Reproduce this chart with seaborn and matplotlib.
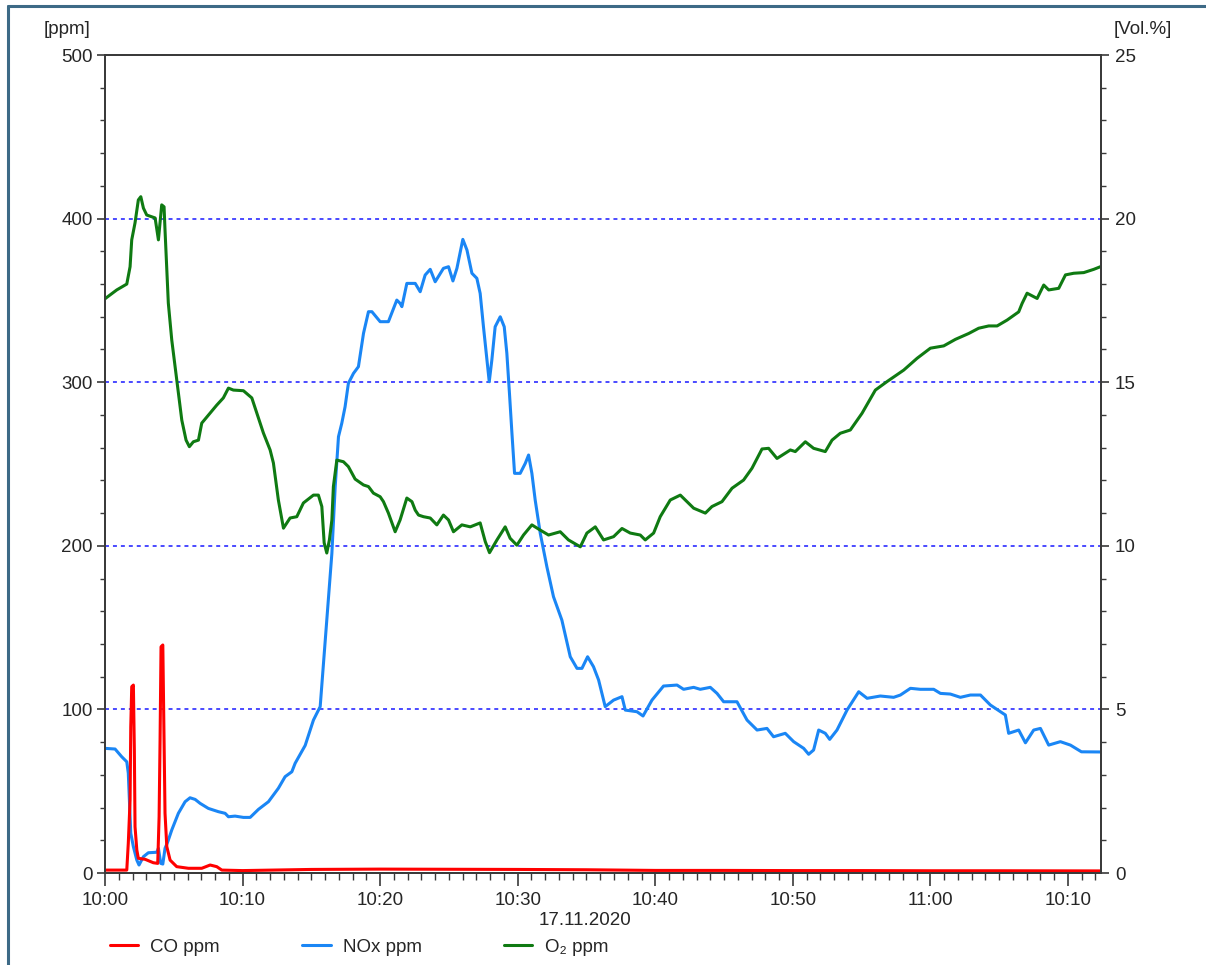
import matplotlib
matplotlib.use("Agg")
import matplotlib.pyplot as plt
from matplotlib.lines import Line2D
from matplotlib.ticker import MultipleLocator
import numpy as np
import pandas as pd
import seaborn as sns

# Data, time in minutes after 10:00

co_t = [0, 1.58, 1.69, 1.82, 1.87, 1.94, 2.06, 2.13, 2.18, 2.31, 2.42, 2.91, 3.51, 3.83,
        3.93, 4.0, 4.07, 4.2, 4.29, 4.36, 4.49, 4.73, 5.21, 6.06, 7.03, 7.64, 8.12, 8.49,
        10, 15, 20, 25, 30, 35, 40, 45, 50, 55, 60, 65, 72.4]
co_ppm = [1.8, 1.8, 18.2, 44.6, 89.4, 113.9, 114.9, 75.2, 28.3, 14.1, 9.0, 8.4, 6.3, 5.9,
          34.4, 81.3, 138.3, 139.4, 81.3, 36.5, 16.1, 7.9, 3.9, 2.9, 2.9, 4.9, 3.9, 1.8,
          1.5, 2.2, 2.4, 2.3, 2.2, 2.0, 1.6, 1.6, 1.5, 1.5, 1.4, 1.4, 1.3]

nox_t = [0, 0.73, 1.21, 1.58, 1.69, 1.77, 1.87, 2.06, 2.31, 2.47, 2.79, 3.15, 3.76, 3.88,
         4.05, 4.2, 4.36, 4.56, 4.85, 5.33, 5.82, 6.18, 6.55, 6.91, 7.51, 8.24, 8.73, 8.97,
         9.45, 10.06, 10.55, 11.15, 11.88, 12.6, 13.09, 13.58, 13.82, 14.55, 15.15, 15.64,
         16.12, 16.49, 16.73, 16.97, 17.21, 17.45, 17.69, 18.06, 18.42, 18.79, 19.15, 19.4,
         20.0, 20.6, 21.21, 21.45, 21.58, 21.94, 22.55, 22.91, 23.27, 23.64, 24.0, 24.6,
         24.97, 25.29, 25.58, 26.01, 26.31, 26.67, 27.03, 27.27, 27.51, 27.71, 27.93, 28.12,
         28.36, 28.73, 29.02, 29.21, 29.4, 29.58, 29.77, 30.18, 30.55, 30.79, 31.03, 31.27,
         31.64, 32.12, 32.6, 33.21, 33.82, 34.31, 34.67, 35.08, 35.51, 35.88, 36.36, 36.97,
         37.58, 37.82, 38.67, 39.11, 39.76, 40.6, 41.58, 42.06, 42.79, 43.27, 44.0, 44.49,
         44.97, 45.94, 46.67, 47.4, 48.12, 48.6, 49.45, 50.06, 50.79, 51.15, 51.51, 51.88,
         52.36, 52.68, 53.21, 53.94, 54.79, 55.4, 56.36, 57.33, 57.82, 58.55, 59.27, 60.24,
         60.73, 61.45, 62.18, 62.91, 63.64, 64.36, 65.09, 65.45, 65.69, 66.42, 66.91, 67.51,
         68.0, 68.6, 69.45, 70.18, 70.98, 72.4]
nox_ppm = [76.2, 75.8, 71.1, 68.0, 61.1, 44.6, 24.3, 16.1, 7.9, 4.9, 10.0, 12.4, 12.7, 15.1,
           5.9, 5.5, 15.1, 19.1, 26.3, 36.5, 43.6, 46.0, 45.0, 42.6, 39.5, 37.5, 36.5, 34.4,
           34.8, 34.0, 34.0, 38.9, 43.6, 51.8, 58.9, 61.9, 67.1, 78.0, 93.5, 101.7,
           154.6, 195.4, 236.0, 266.7, 274.9, 285.0, 299.3, 305.4, 309.5, 329.9, 343.1, 343.1,
           337.0, 337.0, 350.2, 348.2, 346.2, 360.4, 360.4, 355.3, 365.5, 369.0, 361.4, 369.6,
           370.6, 361.9, 369.6, 387.3, 380.8, 366.6, 363.5, 354.3, 333.9, 317.7, 300.3, 313.6,
           333.9, 340.0, 333.9, 317.7, 293.2, 268.8, 244.3, 244.3, 250.4, 255.5, 244.3, 228.0,
           207.6, 187.2, 168.9, 154.6, 132.2, 125.1, 125.1, 132.2, 126.1, 118.0, 101.7, 105.7,
           107.8, 99.6, 98.6, 96.0, 105.7, 114.3, 114.9, 112.3, 113.5, 112.3, 113.5, 109.8,
           104.7, 104.7, 93.5, 87.4, 88.4, 83.3, 85.4, 80.3, 76.2, 72.6, 75.2, 87.4,
           85.4, 81.7, 87.4, 99.6, 110.8, 106.8, 108.2, 107.4, 108.8, 112.9, 112.3, 112.3,
           109.8, 109.4, 107.4, 108.8, 108.8, 102.7, 98.6, 96.6, 85.4, 87.4, 79.6, 87.4,
           88.4, 78.2, 80.3, 78.2, 74.1, 74.0]

o2_t = [0, 0.12, 0.85, 1.58, 1.82, 1.94, 2.18, 2.42, 2.6, 2.79, 3.03, 3.64, 3.88, 4.0,
        4.12, 4.29, 4.36, 4.49, 4.6, 4.85, 5.21, 5.58, 5.89, 6.13, 6.42, 6.79, 7.03, 7.64,
        8.12, 8.6, 8.97, 9.33, 10.06, 10.67, 11.03, 11.51, 12.0, 12.24, 12.6, 12.97, 13.45,
        13.94, 14.42, 15.15, 15.51, 15.76, 15.93, 16.12, 16.31, 16.49, 16.6, 16.85, 17.33,
        17.69, 18.18, 18.79, 19.15, 19.51, 20.0, 20.24, 20.6, 21.09, 21.45, 21.94, 22.31,
        22.55, 22.79, 23.15, 23.64, 24.12, 24.6, 24.97, 25.33, 25.94, 26.55, 27.27, 27.64,
        27.95, 28.49, 29.09, 29.45, 29.94, 30.42, 31.03, 31.64, 32.24, 33.09, 33.69, 34.55,
        35.03, 35.64, 36.24, 36.97, 37.58, 38.18, 38.91, 39.27, 39.88, 40.36, 41.09, 41.82,
        42.79, 43.64, 44.12, 44.85, 45.58, 46.42, 47.03, 47.76, 48.24, 48.85, 49.82, 50.18,
        50.91, 51.51, 52.36, 52.85, 53.45, 54.18, 55.03, 56.0, 56.85, 58.06, 59.03, 60.0,
        60.97, 61.82, 62.79, 63.51, 64.24, 64.85, 65.58, 66.42, 66.67, 67.03, 67.76, 68.24,
        68.6, 69.33, 69.82, 70.42, 71.15, 71.88, 72.36]
o2_vol = [17.55, 17.59, 17.82, 18.0, 18.53, 19.35, 19.87, 20.57, 20.67, 20.32, 20.11, 20.02,
          19.35, 19.87, 20.42, 20.36, 19.65, 18.43, 17.42, 16.29, 15.07, 13.84, 13.23, 13.03,
          13.18, 13.23, 13.75, 14.06, 14.3, 14.52, 14.82, 14.76, 14.74, 14.52, 14.06, 13.45,
          12.93, 12.53, 11.4, 10.54, 10.85, 10.89, 11.31, 11.55, 11.55, 11.2, 10.09, 9.78,
          10.18, 10.79, 11.81, 12.62, 12.57, 12.42, 12.04, 11.86, 11.81, 11.61, 11.5, 11.35,
          11.0, 10.43, 10.79, 11.46, 11.35, 11.09, 10.94, 10.89, 10.85, 10.64, 10.94, 10.79,
          10.43, 10.64, 10.58, 10.7, 10.13, 9.79, 10.18, 10.58, 10.23, 10.02, 10.33, 10.64,
          10.48, 10.33, 10.43, 10.18, 9.97, 10.39, 10.58, 10.18, 10.28, 10.53, 10.39, 10.33,
          10.18, 10.39, 10.89, 11.4, 11.55, 11.15, 11.0, 11.2, 11.35, 11.76, 12.01, 12.37,
          12.96, 12.98, 12.67, 12.93, 12.88, 13.18, 12.98, 12.88, 13.23, 13.44, 13.54, 14.05,
          14.76, 15.02, 15.37, 15.73, 16.04, 16.11, 16.31, 16.49, 16.65, 16.72, 16.72, 16.9,
          17.15, 17.41, 17.72, 17.56, 17.97, 17.82, 17.87, 18.28, 18.33, 18.35, 18.45, 18.53]

x_ticks = [0, 10, 20, 30, 40, 50, 60, 70]
x_labels = ["10:00", "10:10", "10:20", "10:30", "10:40", "10:50", "11:00", "10:10"]
series_names = ["CO ppm", "NOx ppm", "O\u2082 ppm"]
date_label = "17.11.2020"

co_df = pd.DataFrame({"t": co_t, "v": co_ppm})
nox_df = pd.DataFrame({"t": nox_t, "v": nox_ppm})
o2_df = pd.DataFrame({"t": o2_t, "v": o2_vol})

sns.set_theme(style="white")
plt.rcParams["font.family"] = ["Liberation Sans", "DejaVu Sans"]
fs = 13.5
plt.rcParams["font.size"] = fs

c_co, c_nox, c_o2 = "#ff0000", "#1a86f5", "#0f7a12"
axis_col = "#3a3a3a"

fig = plt.figure(figsize=(12.06, 9.65), dpi=100)
ax = fig.add_axes([0.0871, 0.0953, 0.8258, 0.8477])
ax2 = ax.twinx()

# dashed blue grid, ppm scale
ax.grid(axis="y", which="major", color="#3c3cff", ls=(0, (2.2, 2.2)), lw=1.3)
ax.set_axisbelow(True)

sns.lineplot(data=nox_df, x="t", y="v", ax=ax, color=c_nox, lw=2.2, estimator=None, sort=False)
sns.lineplot(data=co_df, x="t", y="v", ax=ax, color=c_co, lw=2.2, estimator=None, sort=False)
sns.lineplot(data=o2_df, x="t", y="v", ax=ax2, color=c_o2, lw=2.2, estimator=None, sort=False)

ax.set_xlim(0, 72.4)
ax.set_ylim(0, 500)
ax2.set_ylim(0, 25)
ax.set_xlabel("")
ax.set_ylabel("")
ax2.set_ylabel("")

ax.set_xticks(x_ticks)
ax.set_xticklabels(x_labels)
ax.xaxis.set_minor_locator(MultipleLocator(1))
ax.yaxis.set_major_locator(MultipleLocator(100))
ax.yaxis.set_minor_locator(MultipleLocator(20))
ax2.yaxis.set_major_locator(MultipleLocator(5))
ax2.yaxis.set_minor_locator(MultipleLocator(1))

for a in (ax, ax2):
    for s in a.spines.values():
        s.set_color(axis_col)
        s.set_linewidth(1.3)
ax.tick_params(axis="x", which="major", direction="out", length=9, width=1.2,
               color=axis_col, labelsize=fs, pad=4.5, bottom=True)
ax.tick_params(axis="x", which="minor", direction="out", length=5, width=1.0,
               color=axis_col, bottom=True)
ax.tick_params(axis="y", which="major", direction="out", length=6, width=1.2,
               color=axis_col, labelsize=fs, pad=3, left=True)
ax.tick_params(axis="y", which="minor", direction="out", length=3.5, width=1.0,
               color=axis_col, left=True)
ax2.tick_params(axis="y", which="major", direction="out", length=6, width=1.2,
                color=axis_col, labelsize=fs, pad=4, right=True)
ax2.tick_params(axis="y", which="minor", direction="out", length=3.5, width=1.0,
                color=axis_col, right=True)

fig.text(0.0556, 0.969, "[ppm]", ha="center", va="center", fontsize=fs)
fig.text(0.948, 0.969, "[Vol.%]", ha="center", va="center", fontsize=fs)
fig.text(0.485, 0.046, date_label, ha="center", va="center", fontsize=fs)

handles = [Line2D([], [], color=c, lw=2.2) for c in (c_co, c_nox, c_o2)]
fig.legend(handles, series_names, loc="center left", bbox_to_anchor=(0.0912, 0.0187),
           ncol=3, frameon=False, fontsize=fs, handlelength=1.5, handletextpad=0.65,
           columnspacing=4.4, borderpad=0, borderaxespad=0)

# outer frame (top and left edges visible in the reference)
fig.add_artist(Line2D([0.0066, 1.0], [0.9938, 0.9938], color="#3d6a86", lw=2.2,
                      transform=fig.transFigure))
fig.add_artist(Line2D([0.0066, 0.0066], [0.0, 0.9938], color="#3d6a86", lw=2.2,
                      transform=fig.transFigure))

fig.savefig("out.png", dpi=100)
